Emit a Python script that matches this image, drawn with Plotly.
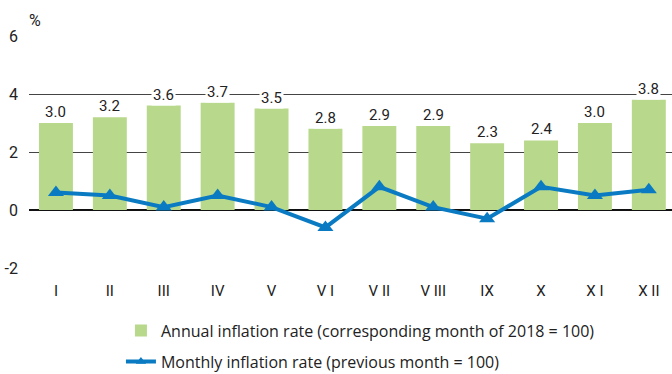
import plotly.graph_objects as go

# Monthly data, 2019
months = ["I", "II", "III", "IV", "V", "V I", "V II", "V III", "IX", "X", "X I", "X II"]
annual_rate = [3.0, 3.2, 3.6, 3.7, 3.5, 2.8, 2.9, 2.9, 2.3, 2.4, 3.0, 3.8]
monthly_rate = [0.6, 0.5, 0.1, 0.5, 0.1, -0.6, 0.8, 0.1, -0.3, 0.8, 0.5, 0.7]
y_ticks = [-2, 0, 2, 4, 6]
y_tick_text = ["-2", "0", "2", "4", "6"]

label_font = "Roboto, sans-serif"
bar_color = "#b8d98c"
line_color = "#0a7bc2"
monthly_name = "Monthly inflation rate (previous month = 100)"

fig = go.Figure()
fig.add_trace(go.Bar(
    x=months, y=annual_rate,
    name="Annual inflation rate (corresponding month of 2018 = 100)",
    marker=dict(color=bar_color, line=dict(width=0)),
    width=0.63, legendgroup="a",
))
fig.add_trace(go.Scatter(
    x=months, y=monthly_rate, mode="lines+markers",
    name=monthly_name, showlegend=False,
    line=dict(color=line_color, width=4),
    marker=dict(symbol="triangle-up", size=14, color=line_color),
    legendgroup="b",
))
# legend entry for the monthly series with a smaller marker
fig.add_trace(go.Scatter(
    x=[None], y=[None], mode="lines+markers", name=monthly_name,
    line=dict(color=line_color, width=4),
    marker=dict(symbol="triangle-up", size=9, color=line_color),
    legendgroup="b", hoverinfo="skip",
))

# value labels above bars, with white backing so gridlines break behind them
for m, v in zip(months, annual_rate):
    fig.add_annotation(
        x=m, y=v, text=f"{v:.1f}", showarrow=False,
        yanchor="bottom", yshift=0, bgcolor="white", borderpad=1,
        font=dict(family=label_font, size=15, color="#222"),
    )

fig.add_annotation(
    x=0, y=1.0, xref="paper", yref="paper", text="%", showarrow=False,
    xanchor="left", yanchor="bottom", yshift=4, xshift=-2,
    font=dict(family=label_font, size=16, color="#222"),
)

fig.update_layout(
    width=672, height=374,
    margin=dict(l=29, r=0, t=36, b=106, autoexpand=False),
    paper_bgcolor="white", plot_bgcolor="white",
    showlegend=True,
    legend=dict(
        x=0.143, y=-0.197, xanchor="left", yanchor="top",
        font=dict(family="Open Sans, sans-serif", size=16, color="#222"),
        traceorder="grouped", tracegroupgap=7,
        bgcolor="rgba(0,0,0,0)",
    ),
    bargap=0.37,
)
fig.update_xaxes(
    range=[-0.5, 11.43], showgrid=False, showline=False, zeroline=False,
    ticks="", tickfont=dict(family=label_font, size=15, color="#222"),
    ticklabelstandoff=12, fixedrange=True,
)
fig.update_yaxes(
    range=[-2, 6], tickvals=y_ticks, ticktext=y_tick_text,
    showgrid=True, gridcolor="#444",
    gridwidth=1.3, zeroline=True, zerolinecolor="#111", zerolinewidth=1.5,
    showline=False, ticks="", tickfont=dict(family=label_font, size=16, color="#222"),
    ticklabelstandoff=10, fixedrange=True,
)

fig.write_html("out.html")
